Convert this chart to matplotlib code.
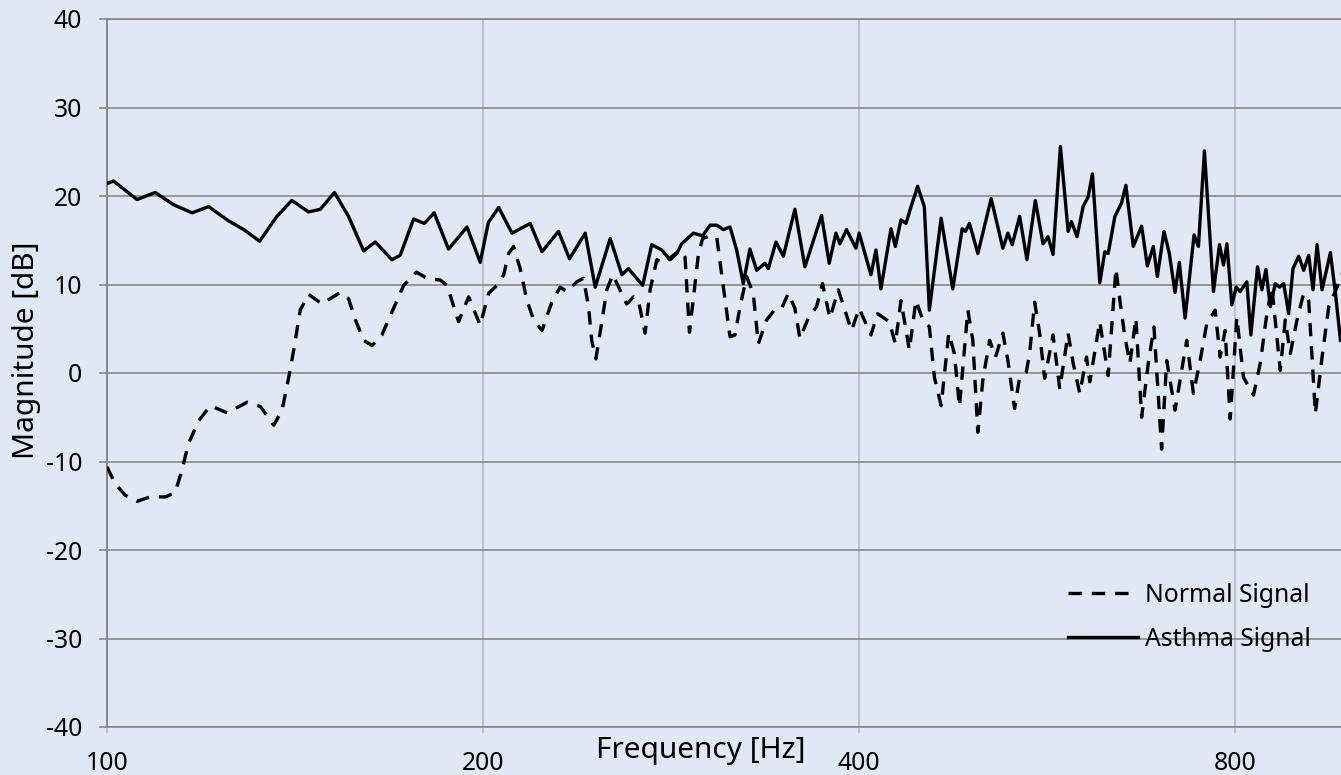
import matplotlib
matplotlib.use("Agg")
import matplotlib.pyplot as plt
from matplotlib.ticker import FixedLocator, FixedFormatter, NullLocator

plt.rcParams["font.family"] = ["Noto Sans", "DejaVu Sans"]
plt.rcParams["axes.unicode_minus"] = False

# Asthma signal spectrum
asthma_freq = [
    100.0, 101.2, 105.7, 109.3, 113.1, 117.0, 120.6, 125.1, 128.7, 132.5,
    136.8, 140.6, 145.0, 148.2, 152.1, 156.1, 160.5, 164.0, 169.1, 171.7,
    176.0, 179.5, 182.8, 187.7, 194.2, 199.0, 202.0, 205.9, 211.0, 218.2,
    223.0, 229.9, 234.6, 241.5, 246.0, 252.9, 258.4, 261.5, 268.5, 273.0,
    278.1, 282.4, 285.9, 288.5, 294.8, 299.9, 304.0, 307.8, 311.6, 315.4,
    319.3, 323.2, 327.2, 331.3, 336.4, 338.5, 343.3, 348.0, 355.5, 362.1,
    373.4, 378.7, 383.4, 386.2, 391.0, 397.8, 400.2, 409.0, 412.8, 416.6,
    424.4, 427.8, 432.3, 436.3, 440.4, 445.8, 451.3, 455.5, 465.5, 475.6,
    483.9, 486.9, 490.5, 498.1, 510.5, 521.6, 526.5, 530.7, 538.0, 545.3,
    553.8, 561.7, 566.9, 572.2, 580.0, 588.3, 591.9, 598.1, 604.8, 610.4,
    615.3, 623.7, 629.5, 633.4, 641.3, 649.2, 654.4, 663.4, 673.7, 680.8,
    688.4, 693.5, 702.1, 709.0, 716.5, 722.2, 729.9, 742.1, 748.1, 756.4,
    769.1, 777.7, 783.5, 788.4, 795.6, 802.0, 807.9, 817.9, 824.0, 834.2,
    840.9, 847.2, 854.0, 862.0, 868.9, 875.4, 883.5, 890.6, 900.0, 908.3,
    916.7, 924.1, 931.0, 939.6, 954.2, 963.1, 972.0,
]
asthma_db = [
    21.4, 21.7, 19.6, 20.4, 19.0, 18.1, 18.8, 17.2, 16.2, 14.9,
    17.7, 19.5, 18.2, 18.5, 20.4, 17.7, 13.8, 14.8, 12.8, 13.3,
    17.4, 16.9, 18.1, 14.0, 16.5, 12.5, 17.0, 18.7, 15.8, 16.9,
    13.7, 16.0, 12.9, 15.8, 9.7, 15.2, 11.1, 11.8, 9.9, 14.5,
    13.9, 12.8, 13.5, 14.6, 15.8, 15.5, 16.7, 16.7, 16.2, 16.5,
    13.9, 10.1, 14.0, 11.6, 12.4, 11.8, 14.8, 13.2, 18.5, 12.0,
    17.8, 12.4, 15.8, 14.6, 16.2, 14.1, 15.8, 11.1, 13.9, 9.5,
    16.3, 14.3, 17.3, 16.9, 18.8, 21.1, 18.8, 7.1, 17.5, 9.5,
    16.3, 16.0, 16.9, 13.5, 19.7, 14.1, 15.8, 14.5, 17.7, 12.8,
    19.5, 14.6, 15.4, 13.4, 25.6, 16.0, 17.1, 15.4, 18.8, 19.9,
    22.5, 10.2, 13.7, 13.5, 17.7, 19.2, 21.2, 14.3, 16.6, 12.1,
    14.3, 10.9, 16.0, 13.5, 9.1, 12.5, 6.2, 15.6, 14.3, 25.1,
    9.2, 14.5, 12.2, 14.6, 7.7, 9.7, 9.2, 10.3, 4.3, 12.0,
    9.4, 11.7, 7.5, 10.1, 9.7, 10.1, 6.7, 11.8, 13.2, 11.6,
    13.3, 9.4, 14.5, 9.4, 13.6, 9.0, 3.7,
]

# Normal signal spectrum
normal_freq = [
    100.0, 101.5, 103.4, 105.7, 108.3, 111.4, 113.4, 114.8, 116.2, 118.4,
    121.0, 124.8, 129.5, 132.7, 136.0, 138.1, 139.8, 141.1, 142.8, 145.0,
    148.6, 153.7, 156.1, 158.1, 160.5, 163.0, 166.0, 169.6, 172.8, 176.9,
    180.4, 184.9, 187.2, 191.2, 194.8, 199.0, 202.1, 205.9, 207.8, 209.7,
    211.6, 214.2, 216.9, 219.6, 223.0, 227.1, 230.6, 233.5, 237.8, 240.7,
    243.0, 244.4, 246.3, 248.2, 251.3, 254.1, 257.5, 260.7, 264.0, 266.4,
    269.7, 272.2, 275.6, 279.0, 287.7, 290.3, 292.7, 297.6, 299.9, 304.0,
    307.8, 315.4, 318.3, 321.3, 325.2, 329.2, 332.3, 337.4, 342.7, 346.9,
    351.2, 355.5, 358.8, 364.4, 370.0, 374.1, 379.2, 385.1, 388.6, 394.6,
    400.2, 409.0, 414.0, 423.1, 427.8, 432.3, 439.0, 444.4, 450.0, 455.5,
    459.8, 465.5, 472.1, 477.0, 481.5, 489.0, 493.5, 498.1, 502.7, 509.0,
    514.6, 521.6, 526.5, 533.0, 538.0, 544.6, 548.0, 553.1, 558.2, 563.4,
    572.2, 579.3, 588.3, 593.8, 601.1, 608.6, 612.3, 623.7, 633.4, 642.5,
    647.2, 653.2, 659.3, 666.6, 673.7, 682.0, 689.2, 699.0, 705.6, 716.5,
    732.1, 741.2, 750.4, 759.7, 771.5, 778.6, 785.8, 793.2, 803.0, 812.9,
    828.1, 838.4, 848.7, 856.6, 869.9, 878.0, 886.2, 897.2, 908.3, 916.7,
    928.1, 939.6, 951.3, 966.0, 973.8,
]
normal_db = [
    -10.6, -12.5, -13.8, -14.5, -14.0, -14.0, -13.5, -11.0, -8.0, -5.4,
    -3.7, -4.5, -3.3, -3.8, -5.9, -4.2, -0.5, 2.6, 7.1, 8.9,
    7.8, 9.1, 8.4, 6.0, 3.7, 3.1, 4.3, 7.3, 9.9, 11.4,
    10.7, 10.5, 9.9, 5.8, 8.6, 5.4, 9.0, 10.1, 11.1, 13.5,
    14.3, 11.8, 8.2, 6.0, 4.8, 8.0, 9.7, 9.2, 10.3, 10.7,
    7.5, 3.7, 1.6, 4.5, 9.4, 11.1, 9.4, 7.8, 8.6, 8.2,
    4.5, 9.4, 12.8, 12.4, 13.9, 13.1, 4.6, 13.5, 15.2, 15.5,
    15.3, 4.1, 4.3, 7.5, 10.9, 9.0, 3.3, 6.0, 7.2, 7.3,
    9.0, 7.3, 3.9, 6.2, 7.5, 10.1, 6.2, 9.4, 7.7, 4.8,
    7.3, 4.3, 6.7, 5.8, 3.3, 8.2, 2.6, 8.2, 6.0, 5.2,
    -0.5, -3.7, 4.5, 2.2, -3.8, 7.1, 3.7, -6.7, -0.8, 3.7,
    1.8, 4.5, 1.4, -4.0, -0.5, 0.1, 2.2, 8.0, 4.5, -0.6,
    4.3, -1.8, 4.5, 1.1, -2.3, 1.8, -1.0, 5.8, -0.3, 11.8,
    8.2, 4.1, 1.1, 6.2, -5.0, 1.1, 5.2, -8.6, 1.4, -4.2,
    3.7, -2.3, 1.4, 5.6, 7.1, 1.8, 4.8, -5.2, 6.3, -0.5,
    -2.5, 1.1, 6.7, 9.7, 0.3, 6.0, 2.2, 6.0, 9.0, 8.2,
    -4.6, 1.8, 7.5, 9.7, 11.2,
]

x_ticks = [100, 200, 400, 800]
x_tick_labels = ["100", "200", "400", "800"]
y_ticks = [-40, -30, -20, -10, 0, 10, 20, 30, 40]

bg = "#dfe8f4"
grid_dark = "#878787"
grid_light = "#b9bcc0"

fig = plt.figure(figsize=(13.41, 7.75), dpi=100, facecolor=bg)
ax = fig.add_axes([107 / 1341, 48 / 775, 1234 / 1341, 708 / 775])
ax.set_facecolor(bg)

ax.plot(normal_freq, normal_db, color="black", lw=2.4, linestyle=(0, (4.0, 3.0)),
        label="Normal Signal", zorder=3, dash_joinstyle="round")
ax.plot(asthma_freq, asthma_db, color="black", lw=2.4, label="Asthma Signal",
        zorder=3, solid_joinstyle="round")

ax.set_xscale("log", base=2)
ax.set_xlim(100, 973)
ax.set_ylim(-40, 40)
ax.xaxis.set_major_locator(FixedLocator(x_ticks))
ax.xaxis.set_major_formatter(FixedFormatter(x_tick_labels))
ax.xaxis.set_minor_locator(NullLocator())
ax.set_yticks(y_ticks)

# grid: dark horizontals, light verticals
ax.grid(axis="y", color=grid_dark, lw=1.2, zorder=1)
ax.grid(axis="x", color=grid_light, lw=1.2, zorder=1)
ax.set_axisbelow(True)

for side in ["top", "bottom"]:
    ax.spines[side].set_color(grid_dark)
    ax.spines[side].set_linewidth(1.2)
ax.spines["left"].set_color(grid_dark)
ax.spines["left"].set_linewidth(1.4)
ax.spines["right"].set_visible(False)

ax.tick_params(axis="y", length=6, width=1.2, color=grid_dark, pad=12,
               labelsize=17.8, labelcolor="black")
ax.tick_params(axis="x", length=4.5, width=1.2, color=grid_light, pad=13,
               labelsize=17.8, labelcolor="black")

fig.text(701 / 1341, 1 - 758 / 775, "Frequency [Hz]", ha="center",
         va="baseline", fontsize=21.5)
fig.text(27 / 1341, 1 - 350 / 775, "Magnitude [dB]", ha="center",
         va="center", rotation=90, fontsize=21.5)

ax.legend(loc="upper left", bbox_to_anchor=(1068 / 1341, 1 - 583 / 775),
          bbox_transform=fig.transFigure, frameon=False, fontsize=17.8,
          handlelength=2.82, handletextpad=0.28, labelspacing=0.76,
          borderpad=0, borderaxespad=0)

fig.savefig("out.png", dpi=100, facecolor=bg)
